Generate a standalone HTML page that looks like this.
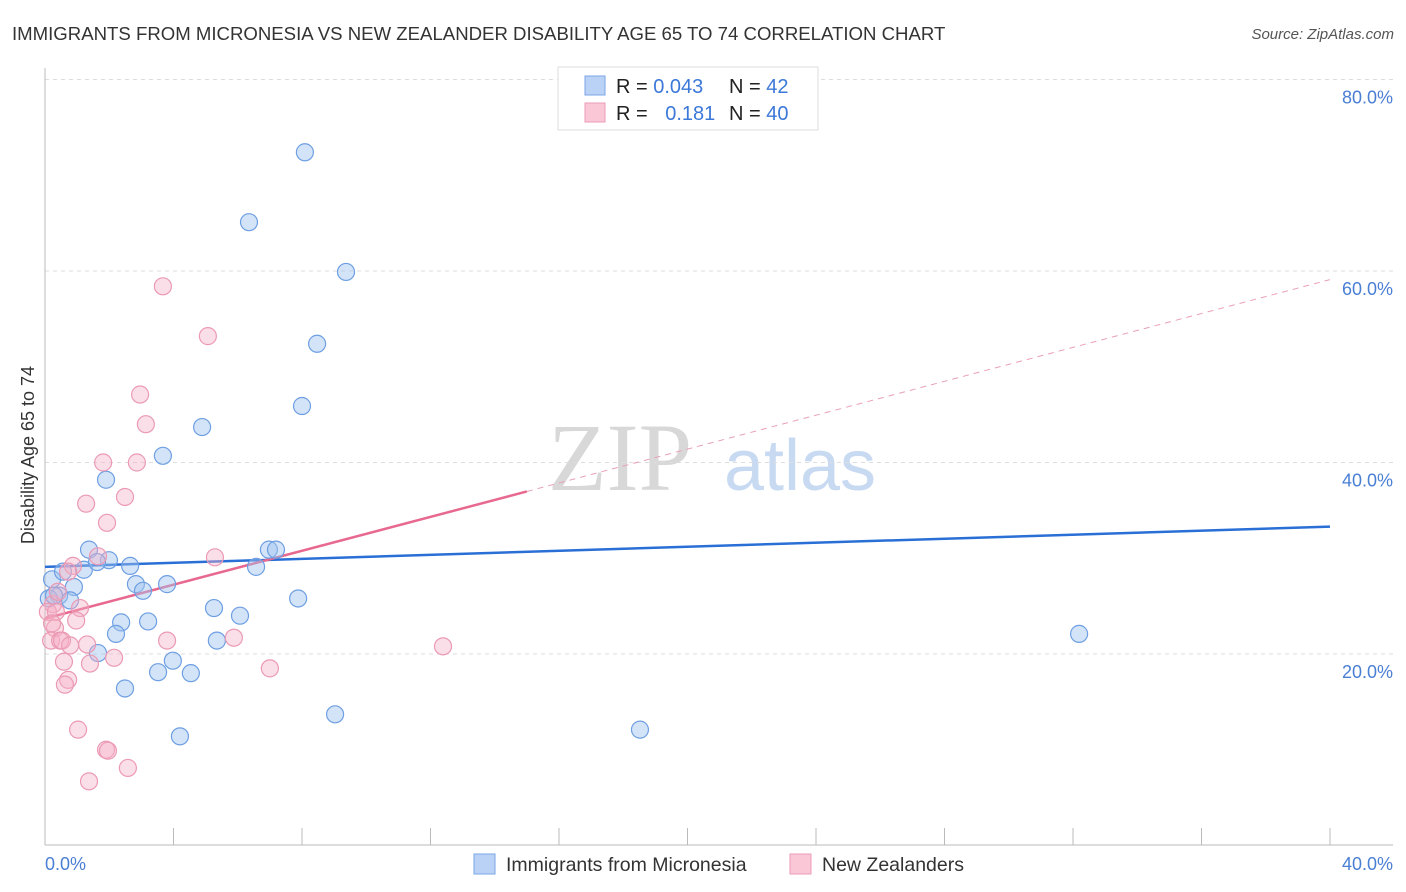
<!DOCTYPE html>
<html><head><meta charset="utf-8"><style>
body{margin:0;background:#fff;font-family:"Liberation Sans",sans-serif;}
#wrap{position:relative;width:1406px;height:892px;overflow:hidden;}
</style></head><body>
<div id="wrap">
<svg id="svg" width="1406" height="892" xmlns="http://www.w3.org/2000/svg">
<text x="12" y="40" font-size="18.6" fill="#333">IMMIGRANTS FROM MICRONESIA VS NEW ZEALANDER DISABILITY AGE 65 TO 74 CORRELATION CHART</text>
<text x="1394" y="39" font-size="15" fill="#555" font-style="italic" text-anchor="end">Source: ZipAtlas.com</text>
<text x="620" y="490" font-size="96" fill="#d8d8d8" font-family="Liberation Serif,serif" text-anchor="middle">ZIP</text>
<text x="800" y="490" font-size="72" fill="#c8daf2" text-anchor="middle">atlas</text>
<g id="grid"></g>
<line x1="45" y1="68" x2="45" y2="845" stroke="#bbb"/>
<line x1="45" y1="845" x2="1393" y2="845" stroke="#bbb"/>
<text x="34" y="455" font-size="18" fill="#333" text-anchor="middle" transform="rotate(-90 34 455)">Disability Age 65 to 74</text>
<text x="45" y="870" font-size="18" fill="#4a7fd4">0.0%</text>
<text x="1393" y="870" font-size="18" fill="#4a7fd4" text-anchor="end">40.0%</text>
<g id="lines"></g>
<g id="pts"></g>
<g>
<rect x="558" y="67" width="260" height="63" fill="#fff" stroke="#ddd"/>
<rect x="585" y="76" width="20" height="19" fill="#b9d2f5" stroke="#7aa6e6"/>
<rect x="585" y="103" width="20" height="19" fill="#f9c7d6" stroke="#ec9bb5"/>
<text x="616" y="93" font-size="20" fill="#222">R = <tspan fill="#3b78d8">0.043</tspan></text>
<text x="729" y="93" font-size="20" fill="#222">N = <tspan fill="#3b78d8">42</tspan></text>
<text x="616" y="120" font-size="20" fill="#222">R = <tspan fill="#3b78d8" dx="12">0.181</tspan></text>
<text x="729" y="120" font-size="20" fill="#222">N = <tspan fill="#3b78d8">40</tspan></text>
</g>
<g>
<rect x="474" y="854" width="21" height="20" fill="#b9d2f5" stroke="#7aa6e6"/>
<text x="506" y="871" font-size="19.5" fill="#333">Immigrants from Micronesia</text>
<rect x="790" y="854" width="21" height="20" fill="#f9c7d6" stroke="#ec9bb5"/>
<text x="822" y="871" font-size="19.5" fill="#333">New Zealanders</text>
</g>
</svg>
</div>
<script>
const yTicks=[20,40,60,80];
const xTicks=[0,4,8,12,16,20,24,28,32,36,40];
const blueX=[8.09,6.35,9.37,8.47,8.0,4.89,3.67,1.90,1.37,0.22,1.99,2.65,1.21,0.56,1.62,2.83,3.05,3.80,0.90,0.44,0.78,0.12,6.97,7.19,6.57,7.88,5.26,6.07,3.21,2.37,2.21,5.35,1.65,3.98,3.52,4.54,2.49,4.20,9.03,18.52,32.19,0.28];
const blueY=[72.4,65.1,59.9,52.4,45.9,43.7,40.7,38.2,30.9,27.8,29.8,29.2,28.8,28.6,29.6,27.3,26.6,27.3,27.0,26.1,25.6,25.8,30.9,30.9,29.1,25.8,24.8,24.0,23.4,23.3,22.1,21.4,20.1,19.3,18.1,18.0,16.4,11.4,13.7,12.1,22.1,26.1];
const pinkX=[3.67,5.07,2.96,3.14,1.81,2.86,2.49,1.28,1.93,5.29,1.65,0.87,0.72,0.25,1.09,0.97,0.31,0.19,0.47,0.53,1.31,0.78,3.80,5.88,12.39,2.15,0.59,1.40,7.0,0.72,0.62,1.03,1.90,1.96,2.58,1.37,0.09,0.34,0.22,0.40];
const pinkY=[58.4,53.2,47.1,44.0,40.0,40.0,36.4,35.7,33.7,30.1,30.2,29.2,28.6,25.2,24.8,23.5,22.7,21.4,21.4,21.4,21.0,20.9,21.4,21.7,20.8,19.6,19.2,19.0,18.5,17.3,16.8,12.1,10.0,9.9,8.1,6.7,24.4,24.4,23.2,26.5];
const blueTrend=[29.1,33.3];
const pinkTrend=[23.7,59.1];
const pinkSolidEnd=15;
const NS="http://www.w3.org/2000/svg";
const sx=v=>45+v*(1285/40);
const sy=v=>845.5-v*(191.5/20);
function mk(tag,attrs,parent){const e=document.createElementNS(NS,tag);for(const k in attrs)e.setAttribute(k,attrs[k]);document.getElementById(parent).appendChild(e);return e;}
yTicks.forEach(t=>{
 const l=mk('line',{x1:45,x2:1393,y1:sy(t),y2:sy(t),stroke:'#ddd','stroke-dasharray':'4,4'},'grid');
 
 
 const tx=mk('text',{x:1393,y:sy(t)+24,'font-size':18,fill:'#4a7fd4','text-anchor':'end'},'grid');
 tx.textContent=t.toFixed(1)+'%';
 
 
});
xTicks.forEach(t=>{
 if(t===0)return;
 const l=mk('line',{x1:sx(t),x2:sx(t),y1:828,y2:845,stroke:'#bbb'},'grid');
 
 
});
function trend(v){return x=>v[0]+(v[1]-v[0])*x/40;}
const bt=trend(blueTrend),pt=trend(pinkTrend);
let e=mk('line',{x1:sx(0),y1:sy(bt(0)),x2:sx(40),y2:sy(bt(40)),stroke:'#2a6fd6','stroke-width':2.5},'lines');


e=mk('line',{x1:sx(0),y1:sy(pt(0)),x2:sx(pinkSolidEnd),y2:sy(pt(pinkSolidEnd)),stroke:'#e8698f','stroke-width':2.5},'lines');


e=mk('line',{x1:sx(pinkSolidEnd),y1:sy(pt(pinkSolidEnd)),x2:sx(40),y2:sy(pt(40)),stroke:'#eaa0b8','stroke-width':1,'stroke-dasharray':'6,5'},'lines');


blueX.forEach((x,i)=>{
 const c=mk('circle',{cx:sx(x),cy:sy(blueY[i]),r:8.5,fill:'rgba(160,196,240,0.45)',stroke:'#6e9fe2','stroke-width':1.2},'pts');
 
 
});
pinkX.forEach((x,i)=>{
 const c=mk('circle',{cx:sx(x),cy:sy(pinkY[i]),r:8.5,fill:'rgba(246,175,198,0.4)',stroke:'#eb9ab4','stroke-width':1.2},'pts');
 
 
});
</script>
</body></html>
